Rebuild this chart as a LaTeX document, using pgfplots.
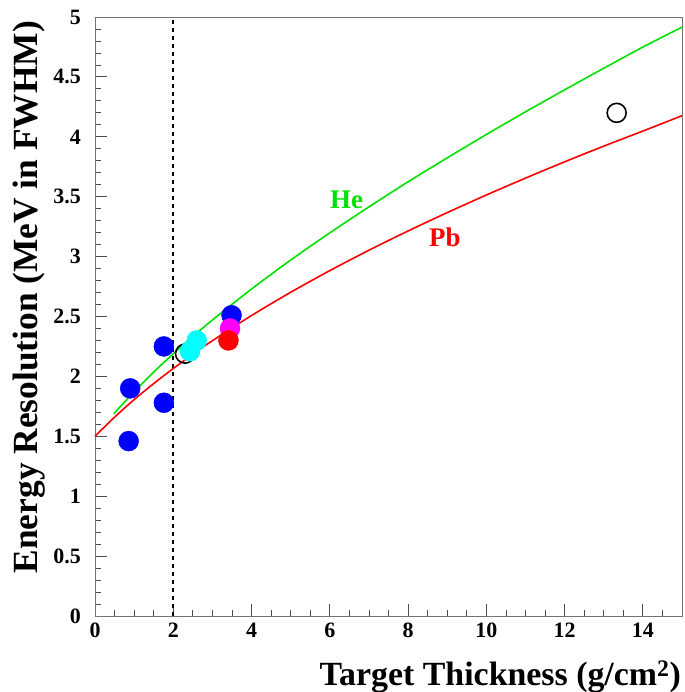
\documentclass[border=0pt]{standalone}
\usepackage{fontspec}
\setmainfont{Liberation Serif}
\usepackage{pgfplots}
\pgfplotsset{compat=1.18}

\definecolor{hegreen}{RGB}{0,225,0}
\definecolor{ptblue}{RGB}{0,0,255}
\definecolor{ptcyan}{RGB}{0,255,255}
\definecolor{ptmagenta}{RGB}{255,0,255}
\definecolor{ptred}{RGB}{255,0,0}

\begin{document}
\begin{tikzpicture}
\begin{axis}[
    scale only axis,
    width=587bp, height=599bp,
    xmin=0, xmax=15, ymin=0, ymax=5,
    xtick={0,2,4,6,8,10,12,14},
    ytick={0,0.5,1,1.5,2,2.5,3,3.5,4,4.5,5},
    minor xtick={0,0.5,...,15},
    minor ytick={0,0.1,...,5},
    xtick pos=bottom, ytick pos=left,
    tick align=inside,
    major tick length=12bp, minor tick length=6bp,
    axis line style={black!55, line width=0.8bp},
    tick style={black!70, line width=0.8bp},
    /pgf/number format/assume math mode=true,
    ticklabel style={font=\fontsize{22}{22}\selectfont\bfseries},
    xticklabel style={inner sep=0pt, yshift=-7bp},
    yticklabel style={inner sep=0pt, xshift=-14bp},
    clip=false,
]
% blue measurements
\addplot[only marks, mark=*, mark size=10bp, mark options={draw=ptblue, fill=ptblue}]
  coordinates {(0.86,1.46) (0.90,1.90) (1.76,2.25) (1.76,1.78) (3.49,2.51)};
% open circles
\addplot[only marks, mark=o, mark size=9.5bp, black, line width=1.6bp]
  coordinates {(2.30,2.19) (13.33,4.20)};
% cyan
\addplot[only marks, mark=*, mark size=10bp, mark options={draw=ptcyan, fill=ptcyan}]
  coordinates {(2.43,2.21) (2.60,2.30)};
% magenta
\addplot[only marks, mark=*, mark size=10bp, mark options={draw=ptmagenta, fill=ptmagenta}]
  coordinates {(3.45,2.40)};
% red
\addplot[only marks, mark=*, mark size=10bp, mark options={draw=ptred, fill=ptred}]
  coordinates {(3.41,2.30)};

% dashed line at 2 g/cm2
\addplot[black, line width=2bp, dash pattern=on 4bp off 4bp] coordinates {(2,0) (2,5)};

% He curve
\addplot[hegreen, line width=1.6bp, smooth] coordinates {
  (0.48,1.688) (1,1.872) (1.5,2.036) (2,2.189) (2.5,2.333) (3,2.471)
  (4,2.729) (5,2.971) (6,3.198) (7,3.415) (8,3.624) (9,3.824)
  (10,4.019) (11,4.208) (12,4.392) (13,4.572) (14,4.749) (15,4.915)};
% Pb curve
\addplot[ptred, line width=1.6bp, smooth] coordinates {
  (0,1.5) (0.5,1.660) (1,1.806) (1.5,1.940) (2,2.066) (2.5,2.185) (3,2.298)
  (4,2.508) (5,2.702) (6,2.883) (7,3.053) (8,3.214) (9,3.367)
  (10,3.514) (11,3.655) (12,3.791) (13,3.922) (14,4.048) (15,4.176)};

\node[hegreen, font=\fontsize{27}{27}\selectfont\bfseries] at (axis cs:6.43,3.47) {He};
\node[ptred, font=\fontsize{27}{27}\selectfont\bfseries] at (axis cs:8.94,3.16) {Pb};

\coordinate (o) at (rel axis cs:0,0);
\coordinate (tl) at (rel axis cs:0,1);
\coordinate (br) at (rel axis cs:1,0);
\end{axis}
\node[rotate=90, anchor=base east, inner sep=0pt, font=\fontsize{35.5}{35.5}\selectfont\bfseries]
  at ([xshift=-57bp, yshift=-4bp]tl) {Energy Resolution (MeV in FWHM)};
\node[anchor=base east, inner sep=0pt, font=\fontsize{34}{34}\selectfont\bfseries]
  at ([xshift=-1bp, yshift=-69bp]br) {Target Thickness (g/cm$^{\mathbf{2}}$)};
\pgfresetboundingbox
\path (o) ++(-95bp,-76bp) rectangle ++(685bp,692bp);
\end{tikzpicture}
\end{document}
